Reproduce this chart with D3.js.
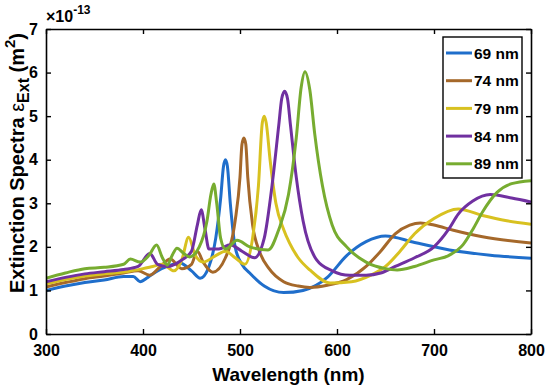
<!DOCTYPE html>
<html>
<head>
<meta charset="utf-8">
<script src="https://cdn.jsdelivr.net/npm/d3@7"></script>
<style>
  body { margin: 0; background: #fff; }
  svg text { font-family: "Liberation Sans", Arial, sans-serif; font-weight: bold; fill: #000; }
</style>
</head>
<body>
<svg id="svg" width="550" height="390"></svg>
<script>
// extinction spectra (values in units of 1e-13 m^2)
var labels = ["69 nm", "74 nm", "79 nm", "84 nm", "89 nm"];
var colors = ["#1f6ecb", "#a5682a", "#d8c120", "#7030a0", "#77ac30"];

var wl69 = [300,320,340,360,380,390,397,405,415,425,438,450,459,468,475,480,483,485,487,490,495,502,510,525,545,565,590,610,630,650,680,716,758,800];
var ext69 = [1.0,1.1,1.18,1.24,1.32,1.32,1.2,1.3,1.45,1.55,1.63,1.45,1.28,1.55,2.2,3.1,3.85,4.0,3.85,3.0,2.0,1.6,1.4,1.1,0.95,1.0,1.3,1.8,2.12,2.25,2.1,1.93,1.81,1.74];

var wl74 = [300,320,340,360,380,395,407,418,428,440,450,456,462,472,485,495,500,502,504,506,508,513,520,530,545,560,572,590,610,630,645,660,675,686,700,720,750,800];
var ext74 = [1.08,1.18,1.27,1.33,1.4,1.45,1.35,1.55,1.72,1.5,1.6,1.9,1.65,1.42,1.75,2.6,3.6,4.35,4.5,4.35,3.6,2.5,1.9,1.5,1.2,1.1,1.07,1.12,1.25,1.55,1.9,2.3,2.5,2.55,2.5,2.38,2.23,2.09];

var wl79 = [300,320,340,360,380,400,410,420,432,440,447,454,462,475,485,495,505,513,519,523,525,527,531,537,545,551,560,572,593,615,635,650,665,680,700,725,750,775,800];
var ext79 = [1.15,1.25,1.33,1.38,1.42,1.5,1.55,1.6,1.45,1.7,2.22,1.8,1.65,1.8,1.9,1.75,1.6,2.2,3.4,4.85,5.0,4.85,4.0,3.0,2.4,2.09,1.75,1.47,1.17,1.2,1.35,1.55,1.9,2.3,2.65,2.87,2.72,2.6,2.52];

var wl84 = [300,320,340,360,380,395,407,415,425,440,450,456,460,464,468,478,490,502,515,525,533,540,543,546,549,552,558,565,579,595,613,630,645,660,680,700,715,725,740,758,780,800];
var ext84 = [1.2,1.3,1.38,1.43,1.48,1.55,1.85,1.6,1.55,1.7,1.9,2.5,2.85,2.4,1.95,1.95,2.05,1.9,1.75,2.2,3.4,4.8,5.4,5.57,5.4,4.8,3.6,2.6,1.7,1.45,1.35,1.35,1.4,1.55,1.75,2.0,2.4,2.75,3.05,3.2,3.12,3.03];

var wl89 = [300,320,340,360,380,387,397,406,414,420,425,430,435,442,448,458,466,470,473,476,480,485,497,510,529,540,550,558,563,567,572,577,585,595,610,630,650,662,680,700,715,730,740,750,765,780,800];
var ext89 = [1.28,1.4,1.5,1.53,1.6,1.72,1.65,1.8,2.04,1.75,1.58,1.8,1.97,1.85,1.77,2.0,2.6,3.2,3.44,3.0,2.2,1.95,2.15,2.0,1.93,2.4,3.2,4.5,5.65,6.02,5.6,4.6,3.4,2.5,2.0,1.65,1.5,1.47,1.55,1.7,1.8,2.05,2.4,2.8,3.25,3.45,3.52];

var xTicks = [300, 400, 500, 600, 700, 800];
var yTicks = [0, 1, 2, 3, 4, 5, 6, 7];

var wls = [wl69, wl74, wl79, wl84, wl89];
var exts = [ext69, ext74, ext79, ext84, ext89];

var svg = d3.select("#svg");
var mLeft = 46, mRight = 531, mTop = 29, mBottom = 334;

var xScale = d3.scaleLinear().domain([300, 800]).range([mLeft, mRight]);
var yScale = d3.scaleLinear().domain([0, 7]).range([mBottom, mTop]);

var plot = svg.append("g");
plot.append("clipPath").attr("id", "clip")
    .append("rect").attr("x", mLeft).attr("y", mTop).attr("width", mRight - mLeft).attr("height", mBottom - mTop);

var line = d3.line()
    .x(function(d) { return xScale(d[0]); })
    .y(function(d) { return yScale(d[1]); })
    .curve(d3.curveMonotoneX);

for (var i = 0; i < wls.length; i++) {
    var pts = wls[i].map(function(w, j) { return [w, exts[i][j]]; });
    plot.append("path")
        .attr("d", line(pts))
        .attr("fill", "none")
        .attr("stroke", colors[i])
        .attr("stroke-width", 3)
        .attr("stroke-linejoin", "round")
        .attr("clip-path", "url(#clip)");
}

// axes: ticks inside, mirrored on top and right
var xAxis = d3.axisBottom(xScale).tickValues(xTicks).tickSizeInner(-5).tickSizeOuter(0).tickPadding(11).tickFormat(d3.format("d"));
var yAxis = d3.axisLeft(yScale).tickValues(yTicks).tickSizeInner(-5).tickSizeOuter(0).tickPadding(8).tickFormat(d3.format("d"));

var gx = svg.append("g").attr("transform", "translate(0," + mBottom + ")").call(xAxis);
var gy = svg.append("g").attr("transform", "translate(" + mLeft + ",0)").call(yAxis);
var gxt = svg.append("g").attr("transform", "translate(0," + mTop + ")")
    .call(d3.axisTop(xScale).tickValues(xTicks).tickSizeInner(-5).tickSizeOuter(0).tickFormat(""));
var gyr = svg.append("g").attr("transform", "translate(" + mRight + ",0)")
    .call(d3.axisRight(yScale).tickValues(yTicks).tickSizeInner(-5).tickSizeOuter(0).tickFormat(""));

[gx, gy, gxt, gyr].forEach(function(g) {
    g.selectAll("path").attr("stroke", "#000").attr("stroke-width", 1.6);
    g.selectAll("line").attr("stroke", "#000").attr("stroke-width", 1.4);
    g.selectAll("text").attr("font-size", 16).attr("font-family", "Liberation Sans, Arial, sans-serif").attr("font-weight", "bold").attr("fill", "#000");
});

// exponent label
var ex = svg.append("text").attr("x", 46).attr("y", 22).attr("font-size", 16).attr("font-weight", "normal");
ex.append("tspan").text("\u00d7");
ex.append("tspan").text("10");
ex.append("tspan").attr("dy", -8).attr("font-size", 12).text("-13");

// axis titles
svg.append("text")
    .attr("x", (mLeft + mRight) / 2)
    .attr("y", 381)
    .attr("text-anchor", "middle")
    .attr("font-size", 19)
    .text("Wavelength (nm)");

var yl = svg.append("text")
    .attr("transform", "translate(24,163) rotate(-90)")
    .attr("text-anchor", "middle")
    .attr("font-size", 20);
yl.append("tspan").text("Extinction Spectra ");
yl.append("tspan").attr("font-weight", "normal").text("\u03b5");
yl.append("tspan").attr("dy", 5).attr("font-size", 16).text("Ext");
yl.append("tspan").attr("dy", -5).text(" (m");
yl.append("tspan").attr("dy", -9).attr("font-size", 15).text("2");
yl.append("tspan").attr("dy", 9).text(")");

// legend
var legend = svg.append("g");
legend.append("rect")
    .attr("x", 443).attr("y", 37).attr("width", 79).attr("height", 141)
    .attr("fill", "#fff").attr("stroke", "#000").attr("stroke-width", 1.4);

labels.forEach(function(lab, i) {
    var y = 53 + i * 27.7;
    legend.append("line")
        .attr("x1", 446).attr("x2", 472).attr("y1", y).attr("y2", y)
        .attr("stroke", colors[i]).attr("stroke-width", 3);
    legend.append("text")
        .attr("x", 474).attr("y", y + 5.5)
        .attr("font-size", 15.5)
        .text(lab);
});
</script>
</body>
</html>
